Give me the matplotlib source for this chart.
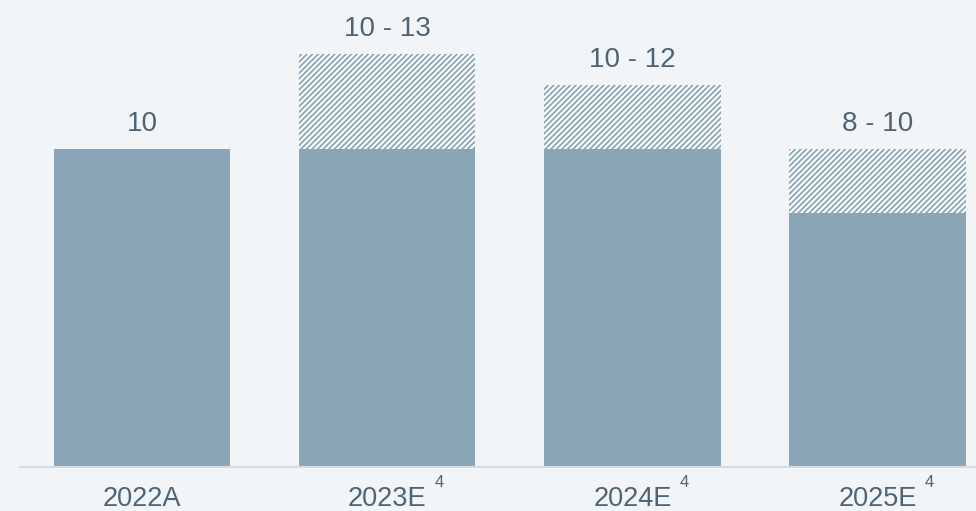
import matplotlib
matplotlib.use("Agg")
import matplotlib.pyplot as plt

categories = ["2022A", "2023E", "2024E", "2025E"]
low = [10, 10, 10, 8]
high = [10, 13, 12, 10]
footnotes = ["", "4", "4", "4"]

BG = "#f2f5f8"
BAR = "#8aa5b5"
TXT = "#4e6474"

plt.rcParams["font.family"] = ["Liberation Sans", "DejaVu Sans"]
plt.rcParams["hatch.linewidth"] = 1.3

fig = plt.figure(figsize=(9.76, 5.11), dpi=100, facecolor=BG)
ax = fig.add_axes([20 / 976, (511 - 467) / 511, 956 / 976, 467 / 511])
ax.set_facecolor(BG)

x = list(range(len(categories)))
ax.bar(x, low, width=0.72, color=BAR, linewidth=0, zorder=2)
ext = [h - l for h, l in zip(high, low)]
ax.bar(x, ext, bottom=low, width=0.72, facecolor="white", edgecolor=BAR,
       hatch="//////", linewidth=0, zorder=2)

for i, (l, h) in enumerate(zip(low, high)):
    lab = f"{l}" if l == h else f"{l} - {h}"
    ax.annotate(lab, xy=(i, h), xytext=(0, 18), textcoords="offset pixels",
                ha="center", va="baseline", fontsize=20, color=TXT)
    ax.annotate(categories[i], xy=(i, 0), xycoords=("data", "axes fraction"),
                xytext=(0, -39), textcoords="offset pixels",
                ha="center", va="baseline", fontsize=19.5, color=TXT,
                annotation_clip=False)
    if footnotes[i]:
        ax.annotate(footnotes[i], xy=(i, 0), xycoords=("data", "axes fraction"),
                    xytext=(52, -20), textcoords="offset pixels",
                    ha="center", va="baseline", fontsize=12, color=TXT,
                    annotation_clip=False)

ax.set_xlim(-0.498, 3.402)
ax.set_ylim(0, 467 / 31.8)
for s in ["top", "right", "left"]:
    ax.spines[s].set_visible(False)
ax.spines["bottom"].set_color("#d6dce1")
ax.spines["bottom"].set_linewidth(1.5)
ax.set_xticks([])
ax.set_yticks([])

fig.savefig("out.png", dpi=100, facecolor=BG)
